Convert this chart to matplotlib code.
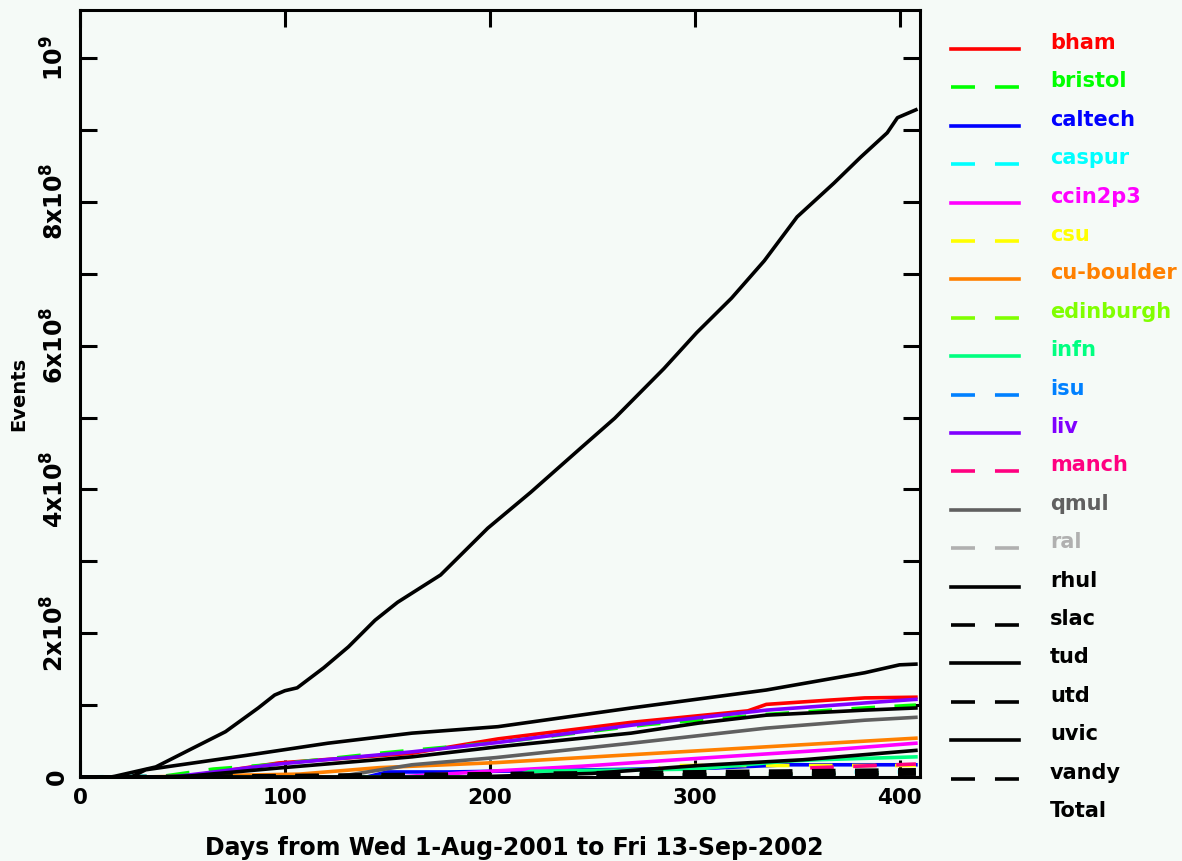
import matplotlib
matplotlib.use("Agg")
import matplotlib.pyplot as plt
from matplotlib.lines import Line2D
from matplotlib.ticker import FixedLocator
import numpy as np

plt.rcParams['font.family'] = ['DejaVu Sans']
plt.rcParams['font.weight'] = 'bold'
plt.rcParams['mathtext.fontset'] = 'custom'
plt.rcParams['mathtext.rm'] = 'DejaVu Sans:bold'
plt.rcParams['mathtext.default'] = 'rm'

BG = '#f5faf7'
M = 1e6

# ---- data (days, cumulative events in millions) ----
sites = ['bham', 'bristol', 'caltech', 'caspur', 'ccin2p3', 'csu', 'cu-boulder',
         'edinburgh', 'infn', 'isu', 'liv', 'manch', 'qmul', 'ral', 'rhul',
         'slac', 'tud', 'utd', 'uvic', 'vandy']
colors = ['#ff0000', '#00ff00', '#0000ff', '#00ffff', '#ff00ff', '#ffff00',
          '#ff8000', '#80ff00', '#00ff80', '#0080ff', '#8000ff', '#ff0080',
          '#606060', '#b0b0b0', '#000000', '#000000', '#000000', '#000000',
          '#000000', '#000000']
dashed = [i % 2 == 1 for i in range(20)]

bham_days = [0, 50, 97, 162, 204, 269, 326, 335, 366, 383, 408]
bham_vals = [0, 0, 19.5, 33, 53, 76, 92, 101, 107, 110, 111]
bristol_days = [0, 38, 65, 97, 146, 204, 277, 335, 383, 408]
bristol_vals = [0, 0, 11, 18, 33, 48, 73, 87, 96, 100]
caltech_days = [0, 140, 150, 180, 310, 345, 408]
caltech_vals = [0, 0, 7, 7, 12.5, 17, 17]
caspur_days = [0, 30, 360, 370, 408]
caspur_vals = [0, 1, 2, 7, 7]
ccin2p3_days = [0, 155, 200, 245, 302, 367, 408]
ccin2p3_vals = [0, 0, 8, 15, 26, 38, 47]
csu_days = [0, 275, 285, 408]
csu_vals = [0, 0, 16, 16]
cuboulder_days = [0, 30, 87, 107, 146, 203, 269, 335, 408]
cuboulder_vals = [0, 0, 3, 4, 13, 20, 31, 42, 54]
edinburgh_days = [0, 100, 408]
edinburgh_vals = [0, 1, 4]
infn_days = [0, 210, 220, 300, 345, 360, 408]
infn_vals = [0, 0, 8, 11, 22, 24, 28]
isu_days = [0, 408]
isu_vals = [0, 2]
liv_days = [0, 45, 97, 162, 204, 269, 335, 383, 408]
liv_vals = [0, 0, 18, 35, 48, 72, 93, 103, 108]
manch_days = [0, 340, 350, 408]
manch_vals = [0, 0, 12, 18]
qmul_days = [0, 125, 162, 203, 269, 335, 383, 408]
qmul_vals = [0, 0, 17, 27, 47, 68, 79, 83]
ral_days = [0, 390, 408]
ral_vals = [0, 1, 2]
rhul_days = [0, 25, 32, 81, 121, 162, 204, 269, 335, 383, 400, 408]
rhul_vals = [0, 0, 10, 30, 47, 61, 70, 96, 121, 145, 156, 157]
slac_days = [0, 100, 408]
slac_vals = [0, 2, 10]
tud_days = [0, 48, 97, 162, 204, 269, 302, 335, 383, 408]
tud_vals = [0, 0, 12.5, 28, 42, 61, 75, 86, 93, 96]
utd_days = [0, 200, 408]
utd_vals = [0, 1, 6]
uvic_days = [0, 190, 250, 302, 353, 408]
uvic_vals = [0, 0, 5, 16, 24, 37]
vandy_days = [0, 150, 408]
vandy_vals = [0, 1, 4]
total_days = [0, 15, 17, 37, 55, 71, 87, 95, 100, 106, 119, 131, 144, 155, 176,
              199, 220, 245, 261, 285, 301, 318, 334, 350, 368, 381, 394,
              399, 408]
total_vals = [0, 0, 1, 14, 40, 63, 96, 114, 120, 124, 152, 181, 218, 243, 281,
              346, 396, 459, 499, 568, 618, 666, 718, 779, 826, 862, 896,
              917, 928]

series = [
    (bham_days, bham_vals), (bristol_days, bristol_vals), (caltech_days, caltech_vals),
    (caspur_days, caspur_vals), (ccin2p3_days, ccin2p3_vals), (csu_days, csu_vals),
    (cuboulder_days, cuboulder_vals), (edinburgh_days, edinburgh_vals),
    (infn_days, infn_vals), (isu_days, isu_vals), (liv_days, liv_vals),
    (manch_days, manch_vals), (qmul_days, qmul_vals), (ral_days, ral_vals),
    (rhul_days, rhul_vals), (slac_days, slac_vals), (tud_days, tud_vals),
    (utd_days, utd_vals), (uvic_days, uvic_vals), (vandy_days, vandy_vals),
]

xticks = [0, 100, 200, 300, 400]
yticks_major = [0, 2e8, 4e8, 6e8, 8e8, 1e9]
ytick_labels = ['0', r'$2\mathrm{x}10^8$', r'$4\mathrm{x}10^8$', r'$6\mathrm{x}10^8$',
                r'$8\mathrm{x}10^8$', r'$10^9$']

W, H = 1182, 861
fig = plt.figure(figsize=(W / 100, H / 100), dpi=100, facecolor=BG)
ax = fig.add_axes([80 / W, 1 - 777 / H, (920 - 80) / W, (777 - 10) / H], facecolor=BG)

LW = 2.6
for (d, v), c, ds in zip(series, colors, dashed):
    ln, = ax.plot(d, np.array(v) * M, color=c, lw=LW)
    if ds:
        ln.set_linestyle('--')
        ln.set_dashes([17 / LW, 14 / LW])
ax.plot(total_days, np.array(total_vals) * M, color='black', lw=LW)

ax.set_xlim(0, 410)
ax.set_ylim(0, 1.0668e9)
ax.xaxis.set_major_locator(FixedLocator(xticks))
ax.yaxis.set_major_locator(FixedLocator(yticks_major))
ax.yaxis.set_minor_locator(FixedLocator([1e8, 3e8, 5e8, 7e8, 9e8]))
ax.set_xticklabels([str(t) for t in xticks])
ax.set_yticklabels(ytick_labels)
for lab in ax.get_yticklabels():
    lab.set_rotation(90)
    lab.set_va('center')
ax.tick_params(which='both', direction='in', length=12, width=2.2,
               top=True, right=True, color='black')
ax.tick_params(axis='x', labelsize=15.5, pad=8)
ax.tick_params(axis='y', labelsize=17, pad=8)
for s in ax.spines.values():
    s.set_linewidth(2.2)

ax.set_xlabel('Days from Wed 1-Aug-2001 to Fri 13-Sep-2002', fontsize=17,
              fontweight='bold')
ax.xaxis.set_label_coords(0.517, -0.092)
ax.xaxis.label.set_va('center')
ax.set_ylabel('Events', fontsize=14, fontweight='bold', labelpad=10)

# ---- legend drawn at the right ----
y0 = 49
dy = 38.4
for i, (name, c, ds) in enumerate(zip(sites, colors, dashed)):
    yy = 1 - (y0 + i * dy) / H
    ln = Line2D([951 / W, 1019 / W], [yy, yy], transform=fig.transFigure,
                color=c, lw=LW)
    if ds:
        ln.set_linestyle('--')
        ln.set_dashes([24 / 1.39 / LW, 20 / 1.39 / LW])
    fig.add_artist(ln)
    fig.text(1050 / W, yy, name, color=c, fontsize=15, fontweight='bold',
             va='baseline', ha='left')
fig.text(1050 / W, 1 - (y0 + 20 * dy) / H, 'Total', color='black', fontsize=15,
         fontweight='bold', va='baseline', ha='left')

fig.savefig('out.png', dpi=100, facecolor=BG)
